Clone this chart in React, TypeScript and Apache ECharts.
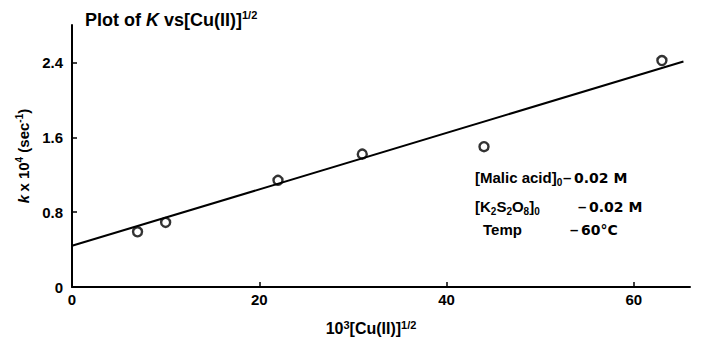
import React, { useEffect, useRef } from "react";
import * as echarts from "echarts";

const xValues = [7, 10, 22, 31, 44, 63];
const yValues = [0.59, 0.69, 1.14, 1.42, 1.5, 2.42];
const fitLine = [
  [0, 0.44],
  [65.3, 2.41],
];
const yTicks = [0, 0.8, 1.6, 2.4];
const xTicks = [0, 20, 40, 60];

const FONT = "'Liberation Sans', Arial, sans-serif";
const WIDE = "'DejaVu Sans', 'Liberation Sans', sans-serif";

export default function App() {
  const ref = useRef<HTMLDivElement>(null);
  useEffect(() => {
    if (!ref.current) return;
    const chart = echarts.init(ref.current, null, { renderer: "svg" });
    const scatterData = xValues.map((x, i) => [x, yValues[i]]);
    const txt = (left: number, top: number, text: string, size = 15, family = FONT) => ({
      type: "text",
      left,
      top,
      style: { text, fontSize: size, fontFamily: family, fill: "#000", fontWeight: "bold" },
    });
    const sub = { fontSize: 10, fontFamily: FONT, fill: "#000", fontWeight: "bold", verticalAlign: "bottom", padding: [9, 0, 0, 0] };
    const main = { fontSize: 15, fontFamily: FONT, fill: "#000", fontWeight: "bold" };
    chart.setOption({
      animation: false,
      backgroundColor: "#fff",
      grid: { left: 72, right: 18, top: 25, bottom: 55 },
      xAxis: {
        type: "value",
        min: 0,
        max: 66,
        interval: 20,
        name: "{a|10}{s|3}{a|[Cu(II)]}{s|1/2}",
        nameLocation: "middle",
        nameGap: 32,
        nameTextStyle: {
          padding: [0, 20, 0, 0],
          rich: {
            a: { fontSize: 16, fontFamily: FONT, color: "#000", fontWeight: "bold" },
            s: { fontSize: 11, fontFamily: FONT, color: "#000", fontWeight: "bold", verticalAlign: "top", padding: [0, 0, 8, 0] },
          },
        },
        axisLine: { show: true, onZero: false, lineStyle: { color: "#000", width: 2 } },
        axisTick: { show: true, inside: true, length: 5, customValues: xTicks, lineStyle: { color: "#000", width: 1.5 } },
        axisLabel: {
          color: "#000",
          fontSize: 15,
          fontFamily: FONT,
          fontWeight: "bold",
          margin: 5,
          customValues: xTicks,
        },
        splitLine: { show: false },
      },
      yAxis: {
        type: "value",
        min: 0,
        max: 2.8,
        interval: 0.8,
        name: "{i|k} {a|x 10}{s|4}{a| (sec}{s|-1}{a|)}",
        nameLocation: "middle",
        nameRotate: 90,
        nameGap: 36,
        nameTextStyle: {
          rich: {
            i: { fontSize: 15, fontFamily: FONT, color: "#000", fontWeight: "bold", fontStyle: "italic" },
            a: { fontSize: 15, fontFamily: FONT, color: "#000", fontWeight: "bold" },
            s: { fontSize: 10, fontFamily: FONT, color: "#000", fontWeight: "bold", verticalAlign: "top", padding: [0, 0, 8, 0] },
          },
        },
        axisLine: { show: true, onZero: false, lineStyle: { color: "#000", width: 2 } },
        axisTick: { show: true, inside: true, length: 5, customValues: yTicks, lineStyle: { color: "#000", width: 1.5 } },
        axisLabel: {
          color: "#000",
          fontSize: 15,
          fontFamily: FONT,
          fontWeight: "bold",
          margin: 9,
          customValues: yTicks,
          formatter: (v: number) => (v === 0 ? "0" : v.toFixed(1)),
        },
        splitLine: { show: false },
      },
      graphic: [
        {
          type: "text",
          left: 85,
          top: 9,
          style: {
            text: "{a|Plot of }{i|K}{a| vs[Cu(II)]}{s|1/2}",
            rich: {
              a: { fontSize: 18, fontFamily: FONT, fill: "#000", fontWeight: "bold" },
              i: { fontSize: 18, fontFamily: FONT, fill: "#000", fontWeight: "bold", fontStyle: "italic" },
              s: { fontSize: 11, fontFamily: FONT, fill: "#000", fontWeight: "bold", verticalAlign: "top", padding: [0, 0, 10, 0] },
            },
          },
        },
        {
          type: "text",
          left: 475,
          top: 170,
          style: { text: "{a|[Malic acid]}{b|0}", rich: { a: main, b: sub } },
        },
        txt(563, 170, "–", 15),
        txt(574, 171, "0.02 M", 14, WIDE),
        {
          type: "text",
          left: 475,
          top: 199,
          style: { text: "{a|[K}{b|2}{a|S}{b|2}{a|O}{b|8}{a|]}{b|0}", rich: { a: main, b: sub } },
        },
        txt(578, 199, "–", 15),
        txt(589, 200, "0.02 M", 14, WIDE),
        txt(483, 222, "Temp", 15),
        txt(570, 222, "–", 15),
        txt(581, 223, "60°C", 14, WIDE),
      ],
      series: [
        {
          type: "line",
          data: fitLine,
          symbol: "none",
          lineStyle: { color: "#000", width: 2 },
          silent: true,
        },
        {
          type: "scatter",
          data: scatterData,
          symbol: "circle",
          symbolSize: 9,
          itemStyle: { color: "#fff", borderColor: "#000", borderWidth: 2.4 },
        },
      ],
    });
    return () => chart.dispose();
  }, []);
  return <div ref={ref} style={{ width: 708, height: 342, position: "absolute", left: 0, top: 0 }} />;
}
